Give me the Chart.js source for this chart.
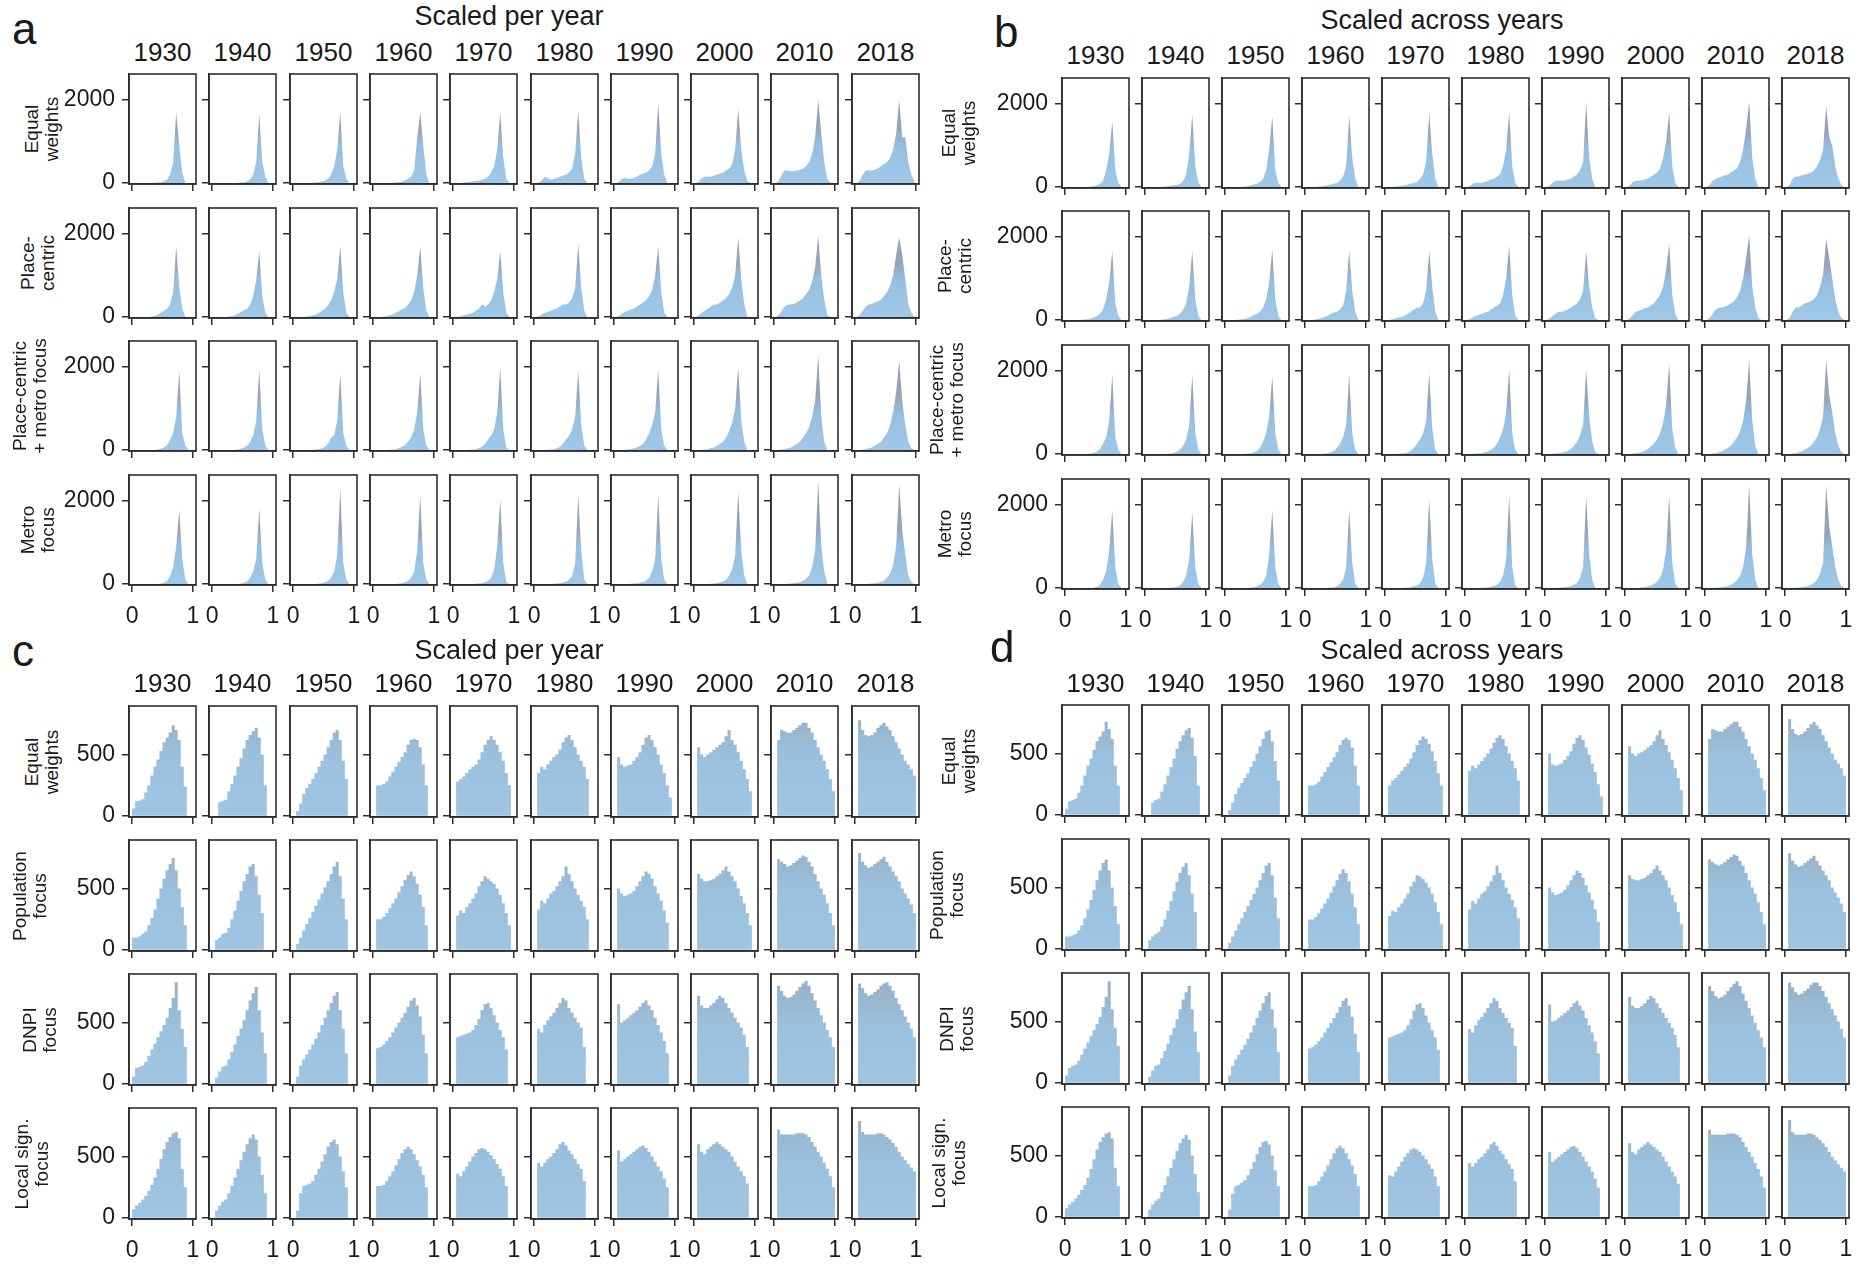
<!DOCTYPE html>
<html>
<head>
<meta charset="UTF-8" />
<title>Score distributions by year</title>
<script src="https://cdn.jsdelivr.net/npm/chart.js"></script>
<style>
  body { margin: 0; background: white; font-family: "Liberation Sans", Arial, sans-serif; color: #1a1a1a; }
  #fig { position: relative; width: 1860px; height: 1269px; overflow: hidden; }
  .lbl { position: absolute; white-space: pre; text-align: center; line-height: 1; }
  canvas { position: absolute; }
</style>
</head>
<body>
<div id="fig"></div>
<script>
  const years = ['1930', '1940', '1950', '1960', '1970', '1980', '1990', '2000', '2010', '2018'];
  const topRowLabels = ['Equal\nweights', 'Place-\ncentric', 'Place-centric\n+ metro focus', 'Metro\nfocus'];
  const bottomRowLabels = ['Equal\nweights', 'Population\nfocus', 'DNPI\nfocus', 'Local sign.\nfocus'];
  const xTicks = [0, 1];
  const binCenters = [0.025, 0.075, 0.125, 0.175, 0.225, 0.275, 0.325, 0.375, 0.425, 0.475,
                      0.525, 0.575, 0.625, 0.675, 0.725, 0.775, 0.825, 0.875, 0.925, 0.975];
  const binEdges = [0, 0.05, 0.1, 0.15, 0.2, 0.25, 0.3, 0.35, 0.4, 0.45, 0.5,
                    0.55, 0.6, 0.65, 0.7, 0.75, 0.8, 0.85, 0.9, 0.95, 1];

  // panel a - scaled per year
  const aEqual = [
    [0,0,0,0,0,0,0,5,10,20,40,80,200,500,1700,900,250,0,0,0],
    [0,0,0,0,0,0,0,0,5,10,20,40,80,200,500,1650,500,150,0,0],
    [0,0,0,0,0,0,5,10,20,40,60,100,200,400,800,1700,400,100,0,0],
    [0,0,0,0,0,0,5,10,20,30,60,100,150,300,1100,1700,900,200,0,0],
    [0,0,0,10,20,30,40,50,60,80,100,150,250,400,800,1700,600,100,0,0],
    [0,10,60,150,120,80,100,120,150,180,200,250,350,700,1740,600,100,0,0,0],
    [0,20,100,120,100,100,120,150,200,220,250,300,400,700,1910,700,200,0,0,0],
    [0,30,120,150,150,150,180,200,220,250,300,350,450,800,1780,800,300,50,0,0],
    [0,50,200,300,300,280,280,300,320,350,400,500,700,1100,2000,1200,500,100,0,0],
    [0,50,200,300,300,300,320,350,400,450,500,600,800,1200,2000,1100,1100,500,200,50]
  ];
  const aPlace = [
    [0,0,0,0,0,0,10,30,60,100,150,200,300,600,1700,700,200,0,0,0],
    [0,0,0,0,0,10,20,40,80,120,160,200,300,500,900,1575,500,100,0,0],
    [0,0,0,0,10,20,40,60,100,150,200,280,400,600,900,1700,600,100,0,0],
    [0,0,0,10,20,40,60,100,140,180,220,300,400,600,1000,1700,700,150,0,0],
    [0,0,20,40,60,80,100,150,200,300,250,300,400,600,900,1575,600,100,0,0],
    [0,20,60,100,120,150,180,200,250,300,300,350,450,700,1745,700,150,0,0,0],
    [0,20,80,120,150,180,200,250,300,350,400,500,650,1000,1700,600,100,0,0,0],
    [0,30,100,150,200,250,300,300,350,400,450,550,700,1000,1915,900,300,0,0,0],
    [0,40,150,250,300,300,320,350,400,450,550,650,850,1200,1957,1000,400,50,0,0],
    [0,40,150,250,300,320,350,380,420,500,600,750,1000,1500,1915,1500,900,300,100,0]
  ];
  const aPlaceMetro = [
    [0,0,0,0,0,0,0,0,10,30,60,120,250,400,800,1900,400,100,0,0],
    [0,0,0,0,0,0,0,5,10,30,60,100,200,350,700,1930,500,100,0,0],
    [0,0,0,0,0,0,5,10,20,40,80,150,300,350,700,1845,400,100,0,0],
    [0,0,0,0,0,5,10,20,40,80,120,200,300,500,900,1845,500,100,0,0],
    [0,0,0,0,0,5,10,20,40,80,150,250,350,500,900,1975,500,50,0,0],
    [0,0,0,0,5,10,20,40,80,150,250,350,500,800,1890,600,100,0,0,0],
    [0,0,0,5,10,20,40,60,100,150,250,400,600,900,1930,500,100,0,0,0],
    [0,0,5,10,20,40,60,100,150,200,300,450,650,1000,2000,700,200,0,0,0],
    [0,0,10,20,40,60,100,150,200,300,400,550,800,1200,2270,800,200,0,0,0],
    [0,0,10,20,40,60,100,150,200,300,400,600,900,1400,2145,1200,600,200,50,0]
  ];
  const aMetro = [
    [0,0,0,0,0,0,0,0,0,10,30,80,200,400,900,1780,600,100,0,0],
    [0,0,0,0,0,0,0,0,0,10,30,60,150,300,600,1826,500,100,0,0],
    [0,0,0,0,0,0,0,0,10,20,40,80,150,300,700,2300,500,100,0,0],
    [0,0,0,0,0,0,0,0,10,20,40,80,150,300,800,2130,500,100,0,0],
    [0,0,0,0,0,0,0,5,10,20,40,80,150,350,900,2040,500,50,0,0],
    [0,0,0,0,0,0,5,10,20,40,60,100,200,500,2130,800,100,0,0,0],
    [0,0,0,0,0,5,10,20,30,50,80,150,300,600,2130,600,100,0,0,0],
    [0,0,0,0,0,5,10,20,40,60,100,200,350,700,2217,800,200,0,0,0],
    [0,0,0,0,5,10,20,30,50,80,120,200,400,800,2478,900,300,0,0,0],
    [0,0,0,0,5,10,20,30,50,80,150,250,450,900,2390,1300,700,200,50,0]
  ];

  // panel b - scaled across years
  const bEqual = [
    [0,0,0,0,0,0,0,0,10,20,40,80,150,400,800,1570,400,100,0,0],
    [0,0,0,0,0,0,10,20,30,40,50,80,150,300,800,1742,500,100,0,0],
    [0,0,0,0,0,0,10,20,40,60,80,120,200,400,900,1700,400,100,0,0],
    [0,0,0,0,10,20,30,40,60,80,100,150,250,500,1700,700,200,0,0,0],
    [0,0,0,10,20,30,40,60,80,100,120,200,300,600,1785,800,200,0,0,0],
    [0,20,80,100,100,100,120,150,180,200,250,300,500,900,1785,500,100,0,0,0],
    [0,30,100,150,150,150,150,180,200,250,300,400,600,2043,700,200,0,0,0,0],
    [0,30,120,150,150,160,180,200,250,300,350,450,700,1100,1800,500,100,0,0,0],
    [0,50,150,200,220,250,280,300,350,400,450,600,900,1400,2060,700,200,0,0,0],
    [0,50,200,250,250,280,300,320,350,400,500,650,900,1957,1200,1000,500,200,50,0]
  ];
  const bPlace = [
    [0,0,0,0,0,5,10,20,40,60,100,150,250,500,900,1660,400,100,0,0],
    [0,0,0,0,0,10,20,30,50,80,100,150,250,400,800,1660,500,100,0,0],
    [0,0,0,0,10,20,30,50,80,120,150,200,300,500,900,1700,500,100,0,0],
    [0,0,0,20,30,50,80,100,150,180,200,250,350,700,1660,700,200,0,0,0],
    [0,0,20,40,60,80,100,150,200,250,300,300,400,700,1660,800,200,0,0,0],
    [0,20,60,100,120,150,180,200,250,300,350,400,600,1000,1787,600,100,0,0,0],
    [0,30,100,150,200,200,220,250,300,350,400,500,700,1660,800,300,50,0,0,0],
    [0,30,120,200,220,250,280,300,350,400,500,600,800,1200,1830,600,150,0,0,0],
    [0,50,150,250,300,300,320,350,400,450,550,700,1000,1500,2040,800,300,50,0,0],
    [0,50,200,300,300,350,400,420,450,500,600,800,1100,1957,1500,1000,500,200,50,0]
  ];
  const bPlaceMetro = [
    [0,0,0,0,0,0,0,0,10,30,60,120,250,400,800,1914,400,100,0,0],
    [0,0,0,0,0,0,0,5,10,30,60,100,200,350,700,1914,500,100,0,0],
    [0,0,0,0,0,0,5,10,20,40,80,150,300,500,900,1870,500,100,0,0],
    [0,0,0,0,0,5,10,20,40,80,150,250,400,700,1914,500,100,0,0,0],
    [0,0,0,0,5,10,20,40,80,150,250,350,500,800,1957,600,100,0,0,0],
    [0,0,0,5,10,20,40,60,100,150,250,400,600,1000,2043,500,100,0,0,0],
    [0,0,5,10,20,30,50,80,120,200,300,450,700,2043,900,300,50,0,0,0],
    [0,0,10,20,30,50,80,120,180,250,350,500,750,1200,2170,600,150,0,0,0],
    [0,0,10,20,40,60,100,150,200,300,400,550,800,1300,2257,800,200,0,0,0],
    [0,0,10,20,40,60,100,150,200,300,400,600,900,2257,1400,1000,500,200,50,0]
  ];
  const bMetro = [
    [0,0,0,0,0,0,0,0,0,10,30,80,200,400,900,1870,500,100,0,0],
    [0,0,0,0,0,0,0,0,5,10,30,60,150,300,700,1828,500,100,0,0],
    [0,0,0,0,0,0,0,0,10,20,40,80,150,300,800,1870,500,100,0,0],
    [0,0,0,0,0,0,0,5,10,20,40,100,200,500,1870,600,100,0,0,0],
    [0,0,0,0,0,0,5,10,20,40,60,120,250,600,2128,700,100,0,0,0],
    [0,0,0,0,0,5,10,20,30,50,80,150,300,700,2214,500,50,0,0,0],
    [0,0,0,0,5,10,20,30,50,80,120,250,500,2214,800,200,0,0,0,0],
    [0,0,0,0,5,10,20,40,60,100,150,250,450,900,2214,600,100,0,0,0],
    [0,0,0,5,10,20,30,50,80,120,200,300,500,1000,2472,800,200,0,0,0],
    [0,0,0,5,10,20,30,50,80,120,200,350,600,2472,1500,1000,500,200,50,0]
  ];

  // panel c - scaled per year
  const cEqual = [
    [60,120,125,135,190,250,330,400,460,530,600,640,680,740,700,620,400,240,0,0],
    [0,0,110,120,130,200,260,330,400,470,550,620,660,690,720,640,500,250,0,0],
    [0,40,100,180,230,260,300,350,400,450,500,560,620,680,700,620,450,300,0,0],
    [0,250,250,260,280,320,360,400,440,480,520,580,620,630,620,560,420,250,0,0],
    [0,280,300,320,350,380,400,420,460,520,580,620,650,620,580,520,450,350,250,0],
    [0,350,400,380,420,450,480,500,540,600,640,660,620,560,500,450,400,300,0,0],
    [0,480,420,400,410,420,450,480,520,580,640,660,620,560,500,420,350,250,150,0],
    [0,560,500,480,500,520,540,560,580,600,650,700,620,580,520,450,380,300,200,0],
    [0,620,700,690,680,680,700,720,740,760,760,720,680,620,560,500,450,380,300,200],
    [0,780,700,660,650,660,680,720,740,760,730,700,650,600,550,500,450,420,380,330]
  ];
  const cPopulation = [
    [100,100,110,130,150,200,260,330,420,500,580,650,700,750,650,500,350,200,0,0],
    [0,80,100,130,140,180,250,320,400,480,560,620,680,700,600,450,300,0,0,0],
    [0,50,100,160,210,260,310,360,410,460,510,560,620,680,720,600,420,250,0,0],
    [0,250,250,270,300,340,380,420,470,520,570,610,640,600,540,450,350,200,0,0],
    [0,280,320,300,350,380,420,460,520,560,600,580,560,540,500,450,380,300,200,0],
    [0,330,400,380,420,460,480,520,560,600,680,620,560,500,450,400,350,250,0,0],
    [0,500,460,440,450,460,480,520,560,600,640,620,580,520,460,400,320,220,0,0],
    [0,620,580,560,560,570,580,600,620,650,680,640,600,560,500,440,380,300,200,0],
    [0,740,720,700,680,690,710,730,750,770,760,720,680,620,560,500,450,380,300,200],
    [0,790,720,690,670,680,700,720,740,760,720,680,640,600,560,500,460,420,370,300]
  ];
  const cDnpi = [
    [60,130,140,150,180,230,280,330,380,430,480,540,620,700,830,600,450,300,0,0],
    [0,50,100,140,150,200,260,320,390,450,520,600,680,740,790,600,420,250,0,0],
    [0,60,150,200,240,280,320,370,420,480,540,600,660,720,750,600,450,250,0,0],
    [0,290,300,320,350,380,420,460,500,540,580,630,680,700,640,550,400,250,0,0],
    [0,380,390,400,410,420,440,480,530,600,650,660,620,560,500,440,380,280,0,0],
    [0,450,420,480,520,550,580,620,660,700,680,620,580,540,500,460,300,0,0,0],
    [0,650,500,520,540,560,580,600,630,660,680,640,600,540,480,420,350,250,0,0],
    [0,720,640,620,620,640,660,690,720,700,660,620,580,540,500,460,400,300,0,0],
    [0,800,760,720,700,710,730,760,790,820,840,800,740,680,620,560,500,440,380,300],
    [0,820,780,740,720,730,750,770,800,820,830,800,760,700,650,600,550,500,450,380]
  ];
  const cLocal = [
    [70,100,120,150,180,220,270,330,400,480,560,620,660,690,700,650,400,250,0,0],
    [0,60,100,130,150,200,260,330,400,470,540,600,650,680,640,500,350,200,0,0],
    [0,60,200,260,270,280,300,350,400,460,520,580,620,640,600,500,380,250,0,0],
    [0,260,260,270,300,340,380,430,480,530,560,580,560,520,470,420,350,250,0,0],
    [0,360,340,380,420,460,500,530,560,570,560,540,510,480,440,400,340,260,0,0],
    [0,450,420,450,480,500,530,560,600,620,590,550,520,480,440,400,300,0,0,0],
    [0,550,460,480,500,520,540,560,580,590,570,540,500,460,420,380,320,250,0,0],
    [0,600,540,520,560,580,600,620,600,580,560,540,500,460,420,380,340,280,0,0],
    [0,720,680,680,680,680,680,690,690,690,680,660,620,580,540,500,450,400,340,250],
    [0,790,700,680,680,680,680,690,690,680,660,640,610,580,540,500,470,440,410,380]
  ];

  // panel d - scaled across years
  const dEqual = [
    [50,110,120,130,180,240,320,400,460,530,600,640,680,760,700,620,400,240,0,0],
    [0,0,100,120,130,190,250,320,390,460,540,600,650,690,710,630,480,240,0,0],
    [0,40,100,170,220,260,300,340,390,440,500,560,620,680,690,600,440,280,0,0],
    [0,240,240,250,270,310,350,390,430,470,510,570,610,630,610,550,400,240,0,0],
    [0,240,280,300,330,360,390,420,460,510,570,610,640,620,580,520,440,340,240,0],
    [0,360,400,380,410,440,470,500,540,590,630,650,620,560,500,440,380,280,0,0],
    [0,500,410,400,410,420,450,480,520,580,630,650,610,550,490,420,350,250,150,0],
    [0,560,500,480,500,510,530,550,570,600,650,690,620,570,510,450,380,300,200,0],
    [0,620,700,690,680,680,700,720,740,760,760,720,680,620,560,500,450,380,300,200],
    [0,780,700,660,650,660,680,710,740,760,730,700,650,600,550,500,450,420,380,320]
  ];
  const dPopulation = [
    [100,100,110,120,150,190,250,320,400,480,560,640,700,730,640,500,350,200,0,0],
    [0,70,100,120,140,180,240,310,390,470,550,620,670,700,600,450,300,0,0,0],
    [0,50,100,150,200,250,300,350,400,450,500,560,620,680,700,600,420,250,0,0],
    [0,240,240,260,290,330,370,410,460,510,560,610,650,620,550,450,340,200,0,0],
    [0,270,310,300,340,370,410,450,510,550,600,590,570,540,500,450,380,300,200,0],
    [0,320,390,370,410,450,470,510,550,600,680,620,560,500,450,400,340,250,0,0],
    [0,500,460,440,450,460,480,520,560,600,640,620,580,520,460,400,320,220,0,0],
    [0,600,570,560,560,570,580,600,620,650,680,640,600,560,500,440,380,300,200,0],
    [0,730,710,690,680,690,710,730,750,770,760,720,680,620,560,500,450,380,300,200],
    [0,780,720,690,670,680,700,720,740,760,720,680,640,600,560,500,460,420,370,300]
  ];
  const dDnpi = [
    [60,120,140,150,180,230,280,330,380,430,480,540,620,700,830,600,450,300,0,0],
    [0,50,100,140,150,200,260,320,390,450,520,600,680,740,790,600,420,250,0,0],
    [0,60,140,190,230,270,310,360,410,470,530,590,650,710,740,600,450,250,0,0],
    [0,280,290,310,340,370,410,450,490,530,570,620,670,690,630,540,400,250,0,0],
    [0,370,380,390,400,410,430,470,520,590,640,650,610,550,490,430,370,270,0,0],
    [0,440,410,470,510,540,570,610,650,690,670,610,570,530,490,450,300,0,0,0],
    [0,640,500,510,530,550,570,590,620,650,670,630,590,530,470,410,340,240,0,0],
    [0,700,630,610,610,630,650,680,710,690,650,610,570,530,490,450,390,290,0,0],
    [0,790,750,710,690,700,720,750,780,810,830,790,730,670,610,550,490,430,370,290],
    [0,820,780,740,720,730,750,770,800,820,820,790,750,700,650,600,550,500,440,370]
  ];
  const dLocal = [
    [70,100,120,150,180,220,260,320,390,470,550,610,650,680,690,640,400,250,0,0],
    [0,60,100,130,150,200,260,330,400,470,540,600,640,670,630,500,350,200,0,0],
    [0,60,190,250,260,280,300,340,390,450,510,570,610,620,590,500,380,250,0,0],
    [0,250,250,260,290,330,370,420,470,520,560,580,560,520,470,420,350,250,0,0],
    [0,340,330,370,410,450,490,520,550,560,550,530,500,470,430,390,330,250,0,0],
    [0,440,410,440,470,490,520,550,590,610,580,540,510,470,430,390,290,0,0,0],
    [0,530,450,470,490,510,530,550,570,580,560,530,490,450,410,370,310,240,0,0],
    [0,600,530,510,550,570,590,610,590,570,550,530,490,450,410,370,330,270,0,0],
    [0,710,670,670,670,670,670,680,680,680,670,650,610,570,530,490,440,390,330,240],
    [0,790,690,670,670,670,670,680,680,670,650,630,600,570,530,490,460,430,400,370]
  ];

  Chart.defaults.font.family = "'Liberation Sans', Arial, sans-serif";
  Chart.defaults.color = '#1a1a1a';

  const fig = document.getElementById('fig');
  const W = 67, L = 80, PADT = 4, PADR = 8, B = 50;
  const INK = '#2e2e2e';

  const panels = [
    { letter: 'a', title: 'Scaled per year', rows: [aEqual, aPlace, aPlaceMetro, aMetro], labels: topRowLabels,
      labelX: [42, 38, 30, 38], x0: 129, colStep: 80.3, y0: 74, rowStep: 133.7, h: 110,
      yMin: -25, yMax: 2625, yTick: 2000, peaked: true, titleX: 509, titleY: 16, yearY: 52, letterX: 12, letterY: 44 },
    { letter: 'b', title: 'Scaled across years', rows: [bEqual, bPlace, bPlaceMetro, bMetro], labels: topRowLabels,
      labelX: [959, 955, 947, 955], x0: 1061.5, colStep: 80.0, y0: 77.5, rowStep: 133.7, h: 110,
      yMin: -25, yMax: 2625, yTick: 2000, peaked: true, titleX: 1442, titleY: 20, yearY: 55, letterX: 994, letterY: 47 },
    { letter: 'c', title: 'Scaled per year', rows: [cEqual, cPopulation, cDnpi, cLocal], labels: bottomRowLabels,
      labelX: [42, 30, 40, 32], x0: 129, colStep: 80.3, y0: 706, rowStep: 134, h: 111,
      yMin: -10, yMax: 897, yTick: 500, peaked: false, titleX: 509, titleY: 650, yearY: 683, letterX: 12, letterY: 666 },
    { letter: 'd', title: 'Scaled across years', rows: [dEqual, dPopulation, dDnpi, dLocal], labels: bottomRowLabels,
      labelX: [959, 947, 957, 949], x0: 1061.5, colStep: 80.0, y0: 705, rowStep: 134, h: 111,
      yMin: -10, yMax: 897, yTick: 500, peaked: false, titleX: 1442, titleY: 650, yearY: 683, letterX: 990, letterY: 662 }
  ];

  function addText(str, x, y, size, opts = {}) {
    const d = document.createElement('div');
    d.className = 'lbl';
    d.textContent = str;
    d.style.left = x + 'px';
    d.style.top = y + 'px';
    d.style.fontSize = size + 'px';
    if (opts.lineHeight) d.style.lineHeight = opts.lineHeight + 'px';
    d.style.transform = opts.corner ? 'none' : 'translate(-50%, -50%)' + (opts.rotate ? ' rotate(-90deg)' : '');
    fig.appendChild(d);
  }

  const frame = {
    id: 'frame',
    afterDraw(chart) {
      const { ctx, chartArea: a } = chart;
      ctx.save();
      ctx.strokeStyle = INK;
      ctx.lineWidth = 1.6;
      ctx.strokeRect(a.left, a.top, a.right - a.left, a.bottom - a.top);
      ctx.restore();
    }
  };

  function fillFor(p) {
    const stops = p.peaked
      ? [[0, 'rgb(160,200,232)'], [900, 'rgb(150,190,224)'], [1300, 'rgb(150,166,186)'], [2600, 'rgb(146,156,170)']]
      : [[0, 'rgb(160,197,226)'], [450, 'rgb(156,193,222)'], [850, 'rgb(150,176,198)']];
    return (ctx) => {
      const ch = ctx.chart, a = ch.chartArea, y = ch.scales.y;
      if (!a || !y) return stops[0][1];
      const g = ch.ctx.createLinearGradient(0, a.bottom, 0, a.top);
      stops.forEach(([v, col]) => {
        const t = (a.bottom - y.getPixelForValue(v)) / (a.bottom - a.top);
        g.addColorStop(Math.min(1, Math.max(0, t)), col);
      });
      return g;
    };
  }

  // keep every plot box the same size, whatever labels its axes carry
  function noPadding(s) {
    s.paddingLeft = 0; s.paddingRight = 0; s.paddingTop = 0; s.paddingBottom = 0;
  }

  function makeChart(p, r, c, values) {
    const left = Math.round(p.x0 + c * p.colStep);
    const top = Math.round(p.y0 + r * p.rowStep);
    const cv = document.createElement('canvas');
    cv.width = L + W + PADR;
    cv.height = PADT + p.h + B;
    cv.style.left = (left - L) + 'px';
    cv.style.top = (top - PADT) + 'px';
    fig.appendChild(cv);

    const pts = p.peaked
      ? values.map((v, i) => ({ x: binCenters[i], y: v }))
      : values.map((v, i) => ({ x: binEdges[i], y: v })).concat([{ x: binEdges[values.length], y: 0 }]);

    const axisGrid = { drawOnChartArea: false, drawTicks: true, tickLength: 7, color: INK, lineWidth: 1.5 };
    const axisBorder = { display: true, color: INK, width: 1.6 };

    new Chart(cv, {
      type: 'line',
      data: {
        datasets: [{
          data: pts,
          fill: 'origin',
          stepped: p.peaked ? false : 'before',
          tension: 0,
          borderColor: 'rgba(0,0,0,0)',
          backgroundColor: fillFor(p),
          pointRadius: 0
        }]
      },
      options: {
        responsive: false,
        animation: false,
        events: [],
        layout: { padding: { top: PADT, right: PADR, left: 0, bottom: 0 } },
        plugins: { legend: { display: false }, tooltip: { enabled: false } },
        scales: {
          x: {
            type: 'linear', min: -0.05, max: 1.05,
            afterBuildTicks: (s) => { s.ticks = xTicks.map(v => ({ value: v })); },
            afterFit: (s) => { s.height = B; noPadding(s); },
            grid: axisGrid, border: axisBorder,
            ticks: { display: r === 3, maxRotation: 0, autoSkip: false, padding: 11,
                     font: { size: 23 }, color: '#1a1a1a', callback: (v) => String(v) }
          },
          y: {
            type: 'linear', min: p.yMin, max: p.yMax,
            afterBuildTicks: (s) => { s.ticks = [0, p.yTick].map(v => ({ value: v })); },
            afterFit: (s) => { s.width = L; noPadding(s); },
            grid: axisGrid, border: axisBorder,
            ticks: { display: c === 0, padding: 7, font: { size: 23 }, color: '#1a1a1a',
                     callback: (v) => String(v) }
          }
        }
      },
      plugins: [frame]
    });
  }

  panels.forEach(p => {
    addText(p.title, p.titleX, p.titleY, 27);
    addText(p.letter, p.letterX, p.letterY - 37, 44, { corner: true });
    years.forEach((yr, c) => {
      addText(yr, Math.round(p.x0 + c * p.colStep) + W / 2, p.yearY, 26);
    });
    p.rows.forEach((row, r) => {
      const top = Math.round(p.y0 + r * p.rowStep);
      addText(p.labels[r], p.labelX[r], top + p.h / 2, 19, { rotate: true, lineHeight: 20 });
      row.forEach((values, c) => makeChart(p, r, c, values));
    });
  });
</script>
</body>
</html>
